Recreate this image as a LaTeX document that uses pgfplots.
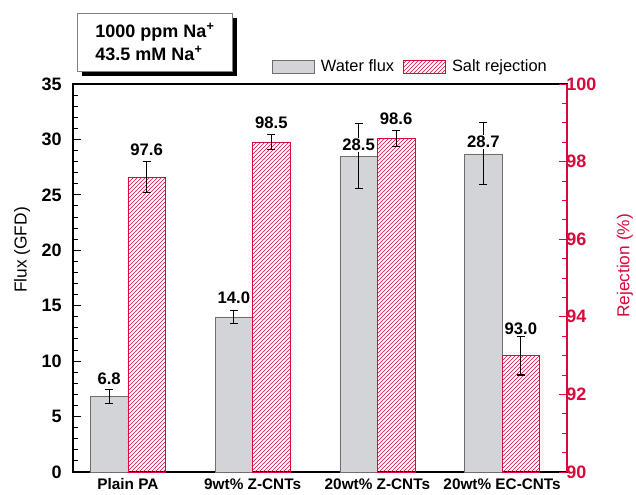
\documentclass[border=0pt]{standalone}
\usepackage{fontspec}
\setmainfont{Liberation Sans}
\usepackage{pgfplots}
\pgfplotsset{compat=1.18}
\usetikzlibrary{patterns,shadows}
\definecolor{rejred}{RGB}{214,10,60}
\definecolor{barfill}{RGB}{211,212,216}
\definecolor{baredge}{RGB}{110,110,110}
\begin{document}
\begin{tikzpicture}
\begin{axis}[
  at={(0pt,0pt)}, anchor=south west,
  scale only axis, width=370.5pt, height=291pt,
  clip=false,
  xmin=-0.44, xmax=3.52, ymin=0, ymax=35,
  xtick={0,1,2,3},
  xticklabels={Plain PA, 9wt\% Z-CNTs, 20wt\% Z-CNTs, 20wt\% EC-CNTs},
  x tick style={draw=none},
  x tick label style={font=\bfseries\fontsize{11.5}{12}\selectfont, yshift=-1.5pt},
  ytick={0,5,...,35}, minor y tick num=4,
  ytick pos=left, xtick pos=bottom,
  tick align=inside,
  y tick style={black, line width=0.7pt},
  minor y tick style={black, line width=0.7pt},
  y tick label style={font=\bfseries\fontsize{13.5}{14}\selectfont, xshift=-5pt},
  /pgf/number format/assume math mode=true,
  major tick length=6pt, minor tick length=3.5pt,
  axis line style={line width=0.8pt},
  ylabel={Flux (GFD)},
  ylabel style={font=\fontsize{13}{14}\selectfont, at={(axis description cs:-0.103,0.572)}, anchor=center},
]
\addplot[ybar, bar width=0.3, bar shift=0, fill=barfill, draw=baredge,
  error bars/.cd, y dir=both, y explicit,
  error bar style={black, line width=0.8pt},
  error mark options={rotate=90, mark size=3pt, black, line width=0.8pt}]
  coordinates {(-0.15,6.8) +- (0,0.6) (0.85,14.0) +- (0,0.6) (1.85,28.5) +- (0,2.9) (2.85,28.7) +- (0,2.8)};
\addplot[draw=none, forget plot, nodes near coords, point meta=explicit symbolic,
  every node near coord/.append style={anchor=south, font=\bfseries\fontsize{12.5}{13}\selectfont, fill=white, inner sep=1pt}]
  coordinates {(-0.15,7.7)[6.8] (0.85,15.0)[14.0] (1.85,28.8)[28.5] (2.85,29.1)[28.7]};
\node[draw=gray, fill=white, line width=0.4pt, align=left, minimum width=116pt, minimum height=43.5pt,
  font=\bfseries\fontsize{13.5}{17}\selectfont,
  drop shadow={shadow xshift=3.5pt, shadow yshift=-3.5pt, fill=black, opacity=1}]
  at (rel axis cs:0.166,1.108) {1000 ppm Na\textsuperscript{+}\\43.5 mM Na\textsuperscript{+}};
\end{axis}
\begin{axis}[
  at={(0pt,0pt)}, anchor=south west,
  scale only axis, width=370.5pt, height=291pt,
  clip=false,
  xmin=-0.44, xmax=3.52, ymin=90, ymax=100,
  axis y line*=right, axis x line=none,
  ytick={90,92,...,100}, minor y tick num=3,
  tick align=inside,
  major tick length=6pt, minor tick length=3.5pt,
  y axis line style={rejred, line width=0.9pt},
  y tick style={rejred, line width=0.7pt},
  minor y tick style={rejred, line width=0.7pt},
  y tick label style={rejred, font=\bfseries\fontsize{13.5}{14}\selectfont, xshift=-4pt},
  /pgf/number format/assume math mode=true,
  ylabel={Rejection (\%)},
  ylabel style={rejred, font=\fontsize{13}{14}\selectfont, at={(axis description cs:1.117,0.531)}, anchor=center},
  legend image code/.code={\draw[#1] (0pt,-5pt) rectangle (31pt,5pt);},
  legend style={at={(0.395,1.044)}, anchor=west, draw=none, fill=none,
    legend columns=2, font=\fontsize{12.3}{13}\selectfont,
    /tikz/every odd column/.append style={column sep=3pt},
    /tikz/every even column/.append style={column sep=5pt}},
  legend cell align=left,
]
\addlegendimage{fill=barfill, draw=baredge}
\addlegendentry{Water flux}
\addlegendimage{pattern=north east lines, pattern color=rejred, draw=rejred}
\addlegendentry{Salt rejection}
\addplot[forget plot, ybar, bar width=0.3, bar shift=0, pattern=north east lines, pattern color=rejred, draw=rejred,
  error bars/.cd, y dir=both, y explicit,
  error bar style={black, line width=0.8pt},
  error mark options={rotate=90, mark size=3pt, black, line width=0.8pt}]
  coordinates {(0.15,97.6) +- (0,0.4) (1.15,98.5) +- (0,0.2) (2.15,98.6) +- (0,0.2) (3.15,93.0) +- (0,0.5)};
\addplot[draw=none, forget plot, nodes near coords, point meta=explicit symbolic,
  every node near coord/.append style={anchor=south, font=\bfseries\fontsize{12.5}{13}\selectfont, inner sep=1pt}]
  coordinates {(0.15,98.1)[97.6] (1.15,98.8)[98.5] (2.15,98.9)[98.6] (3.15,93.5)[93.0]};
\end{axis}
\pgfresetboundingbox
\path[use as bounding box] (-54.75pt,-17.25pt) rectangle (422.25pt,354pt);
\end{tikzpicture}
\end{document}
